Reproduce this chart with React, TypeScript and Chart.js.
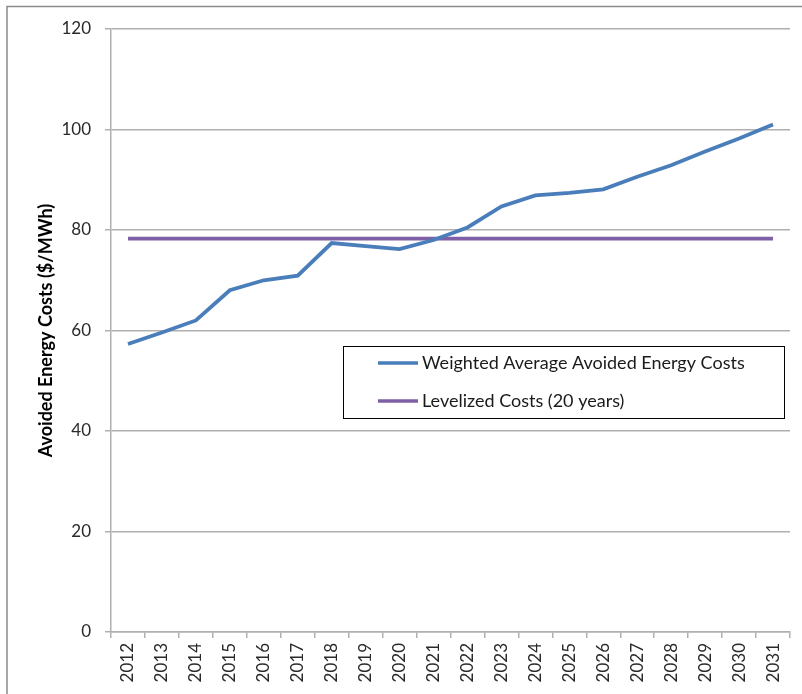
import React, { useEffect, useRef } from "react";
import { Chart, registerables } from "chart.js";

Chart.register(...registerables);

const years = [
  "2012", "2013", "2014", "2015", "2016", "2017", "2018", "2019", "2020", "2021",
  "2022", "2023", "2024", "2025", "2026", "2027", "2028", "2029", "2030", "2031",
];
const weightedAvg = [
  57.3, 59.6, 62.0, 68.0, 70.0, 70.9, 77.4, 76.8, 76.2, 78.0,
  80.5, 84.7, 86.9, 87.4, 88.1, 90.6, 92.9, 95.6, 98.2, 101.0,
];
const levelized = years.map(() => 78.3);
const seriesNames = ["Weighted Average Avoided Energy Costs", "Levelized Costs (20 years)"];
const seriesColors = ["#4A7EBB", "#7F5FA5"];
const yTitle = "Avoided Energy Costs ($/MWh)";

const FONT = "Lato, 'Open Sans', sans-serif";

const framePlugin = {
  id: "frame",
  beforeDraw(chart: any) {
    const ctx = chart.ctx;
    ctx.save();
    ctx.fillStyle = "#ffffff";
    ctx.fillRect(0, 0, chart.width, chart.height);
    ctx.strokeStyle = "#8a8a8a";
    ctx.lineWidth = 1.5;
    ctx.beginPath();
    ctx.moveTo(7, chart.height + 5);
    ctx.lineTo(7, 6.5);
    ctx.lineTo(chart.width + 5, 6.5);
    ctx.stroke();
    ctx.restore();
  },
};

const legendPlugin = {
  id: "boxLegend",
  afterDatasetsDraw(chart: any) {
    const ctx = chart.ctx;
    const x0 = 343.5, y0 = 346.5, w = 441, h = 72;
    ctx.save();
    ctx.fillStyle = "#ffffff";
    ctx.fillRect(x0, y0, w, h);
    ctx.strokeStyle = "#000000";
    ctx.lineWidth = 1;
    ctx.strokeRect(x0, y0, w, h);
    ctx.font = `18px ${FONT}`;
    ctx.textBaseline = "middle";
    ctx.fillStyle = "#1a1a1a";
    const rows = [363, 401];
    seriesNames.forEach((name, i) => {
      ctx.strokeStyle = seriesColors[i];
      ctx.lineWidth = 3.5;
      ctx.beginPath();
      ctx.moveTo(378, rows[i]);
      ctx.lineTo(418, rows[i]);
      ctx.stroke();
      ctx.fillText(name, 422, rows[i]);
    });
    ctx.restore();
  },
};

export default function App() {
  const ref = useRef<HTMLCanvasElement | null>(null);
  useEffect(() => {
    document.body.style.margin = "0";
    const canvas = ref.current;
    if (!canvas) return;
    const chart = new Chart(canvas, {
      type: "line",
      data: {
        labels: years,
        datasets: [
          {
            label: seriesNames[0],
            data: weightedAvg,
            borderColor: seriesColors[0],
            backgroundColor: seriesColors[0],
            borderWidth: 3.8,
            pointRadius: 0,
            tension: 0,
          },
          {
            label: seriesNames[1],
            data: levelized,
            borderColor: seriesColors[1],
            backgroundColor: seriesColors[1],
            borderWidth: 3.8,
            pointRadius: 0,
            tension: 0,
          },
        ],
      },
      options: {
        responsive: false,
        animation: false,
        layout: { padding: { top: 29, right: 12, left: 0, bottom: 0 } },
        plugins: {
          legend: { display: false },
          tooltip: { enabled: false },
        },
        scales: {
          x: {
            offset: true,
            grid: {
              offset: true,
              drawOnChartArea: false,
              drawTicks: true,
              tickLength: 6,
              color: "#b0b0b0",
              lineWidth: 1.5,
            },
            border: { display: true, color: "#b0b0b0", width: 1.5 },
            ticks: {
              minRotation: 90,
              maxRotation: 90,
              padding: 5,
              autoSkip: false,
              color: "#2a2a2a",
              font: { family: FONT, size: 17 },
            },
            afterFit(scale: any) {
              scale.height = 62;
            },
          },
          y: {
            min: 0,
            max: 120,
            ticks: {
              stepSize: 20,
              padding: 14,
              color: "#2a2a2a",
              font: { family: FONT, size: 17 },
            },
            grid: {
              color: "#b0b0b0",
              lineWidth: 1.5,
              tickLength: 6,
            },
            border: { display: true, color: "#b0b0b0", width: 1.5 },
            title: {
              display: true,
              text: yTitle,
              color: "#000000",
              font: { family: FONT, size: 18, weight: "bold" },
              padding: { top: 35, bottom: 0 },
            },
            afterFit(scale: any) {
              scale.width = 111;
            },
          },
        },
      },
      plugins: [framePlugin, legendPlugin],
    });
    return () => chart.destroy();
  }, []);
  return (
    <div style={{ width: 802, height: 694 }}>
      <canvas ref={ref} width={802} height={694} />
    </div>
  );
}
